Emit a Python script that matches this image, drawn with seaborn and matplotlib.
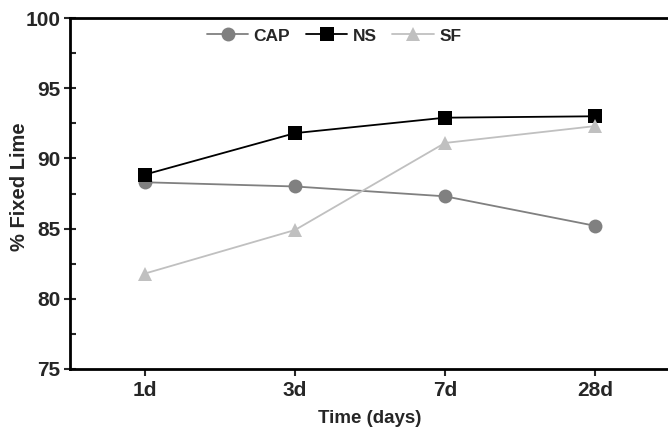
import matplotlib
matplotlib.use("Agg")
import matplotlib.pyplot as plt
import seaborn as sns
import pandas as pd
import numpy as np
from matplotlib.ticker import MultipleLocator

days = ["1d", "3d", "7d", "28d"]
cap = [88.3, 88.0, 87.3, 85.2]
ns = [88.85, 91.8, 92.9, 93.0]
sf = [81.8, 84.9, 91.1, 92.3]

sns.set_theme(style="white")
plt.rcParams['font.family'] = ['Liberation Sans', 'DejaVu Sans']
plt.rcParams['font.weight'] = 'bold'

rows = []
for name, vals in (("CAP", cap), ("NS", ns), ("SF", sf)):
    for i, v in enumerate(vals):
        rows.append({"x": i, "y": v, "series": name})
df = pd.DataFrame(rows)

fig = plt.figure(figsize=(6.68, 4.29), dpi=100)
ax = fig.add_axes([70/668, 60/429, 600/668, 351/429])

palette = {"CAP": "#808080", "NS": "#000000", "SF": "#c0c0c0"}
markers = {"CAP": "o", "NS": "s", "SF": "^"}
sns.lineplot(data=df, x="x", y="y", hue="series", style="series",
             palette=palette, markers=markers, dashes=False,
             markersize=10, linewidth=1.3, markeredgewidth=0, ax=ax)

ax.set_xlim(-0.5, 3.5)
ax.set_ylim(75, 100)
ax.set_xticks(range(len(days)))
ax.set_xticklabels(days)
ax.yaxis.set_major_locator(MultipleLocator(5))
ax.yaxis.set_minor_locator(MultipleLocator(2.5))
ax.tick_params(axis='y', which='major', direction='inout', length=8, width=1.5, labelsize=15, left=True, pad=3)
ax.tick_params(axis='y', which='minor', direction='in', length=4, width=1.5, left=True)
ax.tick_params(axis='x', which='major', direction='out', length=5, width=1.5, labelsize=15, bottom=True, pad=4)
for lab in ax.get_xticklabels() + ax.get_yticklabels():
    lab.set_fontweight('bold')
for s in ax.spines.values():
    s.set_linewidth(2)
    s.set_color('black')

ax.set_xlabel("Time (days)", fontsize=13.5, fontweight='bold')
ax.set_ylabel("% Fixed Lime", fontsize=14.5, fontweight='bold')
ax.yaxis.set_label_coords(-0.068, 0.52)
ax.xaxis.set_label_coords(0.5, -0.117)

leg = ax.legend(loc='upper center', bbox_to_anchor=(0.44, 1.015), ncol=3, frameon=False,
                prop={'weight': 'bold', 'size': 12.5}, handlelength=2.4, columnspacing=0.9,
                handletextpad=0.3, markerscale=1.0)

fig.savefig("out.png", dpi=100)
